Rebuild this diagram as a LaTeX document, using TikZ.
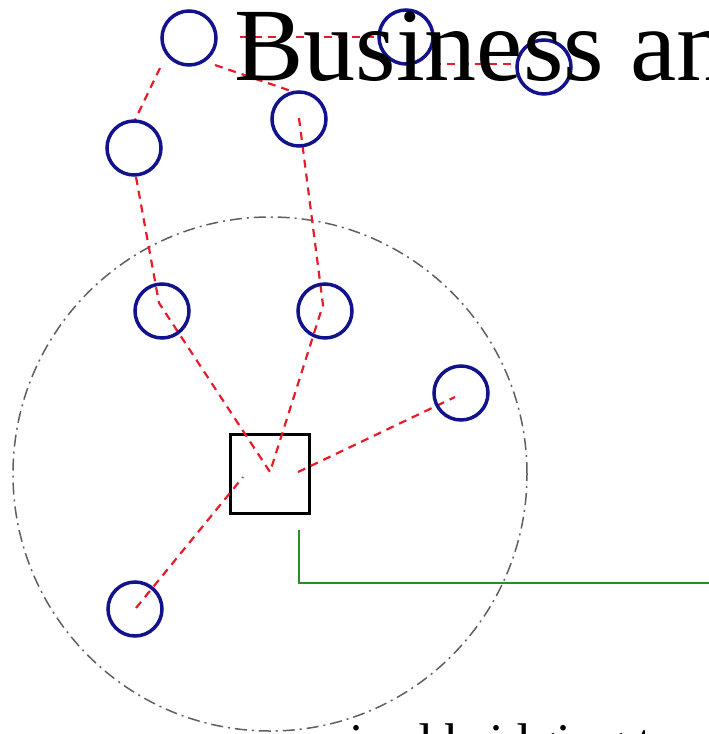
\documentclass[tikz,border=0pt]{standalone}
\usepackage{fontspec}
\setmainfont{Liberation Serif}
\definecolor{ringblue}{RGB}{18,18,140}
\definecolor{linkred}{RGB}{232,28,40}
\definecolor{zonegray}{RGB}{95,95,95}
\definecolor{leadgreen}{RGB}{40,140,40}
\begin{document}
\begin{tikzpicture}[x=1pt,y=-1pt,
  ring/.style={circle, draw=ringblue, line width=3.5pt, minimum size=54pt, inner sep=0pt},
  link/.style={draw=linkred, line width=2.2pt, dash pattern=on 8pt off 6pt},
  hub/.style={rectangle, draw=black, line width=3pt, minimum size=79pt, inner sep=0pt},
  zone/.style={circle, draw=zonegray, line width=1.5pt, minimum size=514pt, inner sep=0pt,
    dash pattern=on 12pt off 5pt on 2pt off 5pt},
  lead/.style={draw=leadgreen, line width=1.5pt}]
\useasboundingbox (0,0) rectangle (709,734);

% zone circle and hub
\node[zone] (zone) at (270,474) {};
\node[hub] (sq) at (270,474) {};

% red link coordinates
\coordinate (a1) at (160,68);  \coordinate (a2) at (135,120);
\coordinate (b1) at (215,65);  \coordinate (b2) at (294,92);
\coordinate (h1) at (240,37);  \coordinate (h2) at (378,37);
\coordinate (k1) at (433,64);  \coordinate (k2) at (516,64);
\coordinate (d1) at (136,177); \coordinate (d2) at (159,303);
\coordinate (v)  at (270,472);
\coordinate (e1) at (299,118); \coordinate (e2) at (323,305);
\coordinate (f1) at (298,472); \coordinate (f2) at (455,397);
\coordinate (g1) at (136,608); \coordinate (g2) at (243,477);

\draw[link] (a1) -- (a2);
\draw[link] (b1) -- (b2);
\draw[link] (h1) -- (h2);
\draw[link] (k1) -- (k2);
\draw[link] (d1) -- (d2) -- (v);
\draw[link] (e1) -- (e2) -- (v);
\draw[link] (f1) -- (f2);
\draw[link] (g1) -- (g2);

% blue rings
\node[ring] (c1) at (189,38) {};
\node[ring] (c2) at (406,37) {};
\node[ring] (c3) at (544,67) {};
\node[ring] (c4) at (299,119) {};
\node[ring] (c5) at (134,148) {};
\node[ring] (c6) at (162,311) {};
\node[ring] (c7) at (325,311) {};
\node[ring] (c8) at (461,393) {};
\node[ring] (c9) at (135,609) {};

% green leader
\coordinate (l1) at (299,530);
\coordinate (l2) at (712,583);
\draw[lead] (l1) |- (l2);

% texts
\node[anchor=base west, inner sep=0pt, font=\fontsize{104}{104}\selectfont] (title) at (234,80) {Business an};
\node[anchor=base west, inner sep=0pt, font=\fontsize{53}{53}\selectfont] (caption) at (255,760) {required bridging to};
\end{tikzpicture}
\end{document}
